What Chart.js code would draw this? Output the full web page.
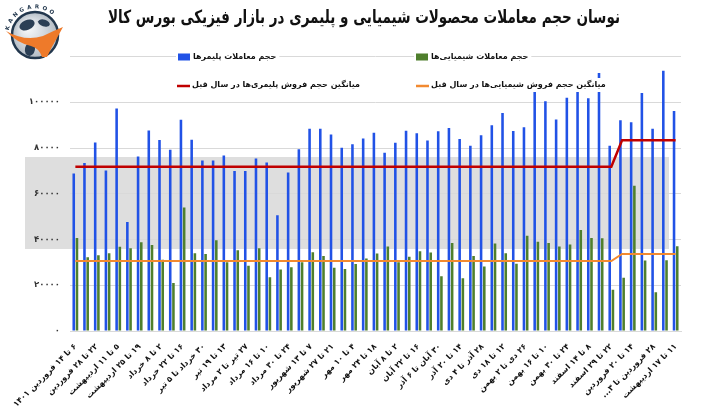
<!DOCTYPE html>
<html lang="fa">
<head>
<meta charset="utf-8">
<script src="https://cdn.jsdelivr.net/npm/chart.js@4.4.1/dist/chart.umd.min.js"></script>
<style>
  html, body { margin: 0; padding: 0; background: #fff; }
  #wrap { width: 701px; height: 407px; position: relative; }
</style>
</head>
<body>
<div id="wrap"><canvas id="chart" dir="rtl"></canvas></div>
<script>
// Weekly trade volume of chemical and polymer products, Iran Mercantile Exchange.
// Only every other week is labelled on the axis, like the source picture.
const chartTitle = 'نوسان حجم معاملات محصولات شیمیایی و پلیمری در بازار فیزیکی بورس کالا';

const weekLabels = [
  '۶ تا ۱۴ فروردین ۱۴۰۱', '', '۲۲ تا ۲۸ فروردین', '', '۵ تا ۱۱ اردیبهشت', '',
  '۱۹ تا ۲۵ اردیبهشت', '', '۲ تا ۸ خرداد', '', '۱۶ تا ۲۲ خرداد', '',
  '۳۰ خرداد تا ۵ تیر', '', '۱۳ تا ۱۹ تیر', '', '۲۷ تیر تا ۲ مرداد', '',
  '۱۰ تا ۱۶ مرداد', '', '۲۴ تا ۳۰ مرداد', '', '۷ تا ۱۳ شهریور', '',
  '۲۱ تا ۲۷ شهریور', '', '۴ تا ۱۰ مهر', '', '۱۸ تا ۲۴ مهر', '',
  '۲ تا ۸ آبان', '', '۱۶ تا ۲۲ آبان', '', '۳۰ آبان تا ۶ آذر', '',
  '۱۴ تا ۲۰ آذر', '', '۲۸ آذر تا ۴ دی', '', '۱۲ تا ۱۸ دی', '',
  '۲۶ دی تا ۲ بهمن', '', '۱۰ تا ۱۶ بهمن', '', '۲۴ تا ۳۰ بهمن', '',
  '۸ تا ۱۴ اسفند', '', '۲۲ تا ۲۹ اسفند', '', '۱۴ تا ۲۰ فروردین', '',
  '۲۸ فروردین تا ۳...', '', '۱۱ تا ۱۷ اردیبهشت'
];

const polymerVolume = [
  68900, 73400, 82400, 70200, 97300, 47700, 76300, 87700, 83500, 79200,
  92400, 83600, 74500, 74500, 76700, 69900, 69900, 75400, 73700, 50600,
  69300, 79400, 88400, 88400, 85900, 80100, 81600, 84200, 86700, 77900,
  82300, 87500, 86400, 83300, 87300, 88700, 83900, 81000, 85600, 89900,
  95300, 87400, 89100, 106400, 100400, 92500, 102000, 107400, 101700, 112800,
  81000, 92100, 91300, 104000, 88400, 113800, 96200
];

const chemicalVolume = [
  40700, 32200, 33100, 34000, 36800, 36200, 38800, 37600, 31100, 21000,
  54000, 34000, 33700, 39700, 30100, 35300, 28500, 36200, 23500, 26900,
  27900, 30100, 34400, 32800, 27600, 27100, 29300, 31700, 33900, 36900,
  30100, 32500, 34900, 34300, 23900, 38500, 23100, 32800, 28200, 38200,
  34000, 29400, 41600, 39000, 38500, 36900, 37800, 44100, 40700, 40600,
  18000, 23300, 63500, 30800, 16900, 30900, 37100
];

// previous-year weekly averages (step up when the new year starts)
const polymerPrevAvg = [
  71800, 71800, 71800, 71800, 71800, 71800, 71800, 71800, 71800, 71800,
  71800, 71800, 71800, 71800, 71800, 71800, 71800, 71800, 71800, 71800,
  71800, 71800, 71800, 71800, 71800, 71800, 71800, 71800, 71800, 71800,
  71800, 71800, 71800, 71800, 71800, 71800, 71800, 71800, 71800, 71800,
  71800, 71800, 71800, 71800, 71800, 71800, 71800, 71800, 71800, 71800,
  71800, 83400, 83400, 83400, 83400, 83400, 83400
];

const chemicalPrevAvg = [
  30600, 30600, 30600, 30600, 30600, 30600, 30600, 30600, 30600, 30600,
  30600, 30600, 30600, 30600, 30600, 30600, 30600, 30600, 30600, 30600,
  30600, 30600, 30600, 30600, 30600, 30600, 30600, 30600, 30600, 30600,
  30600, 30600, 30600, 30600, 30600, 30600, 30600, 30600, 30600, 30600,
  30600, 30600, 30600, 30600, 30600, 30600, 30600, 30600, 30600, 30600,
  30600, 33700, 33700, 33700, 33700, 33700, 33700
];

const yTicks = [0, 20000, 40000, 60000, 80000, 100000];

const FONT = "'DejaVu Sans', sans-serif";
const faDigits = '۰۱۲۳۴۵۶۷۸۹';
const toFa = (n) => String(n).replace(/\d/g, d => faDigits[d]);

// grey watermark band behind the plot
const watermarkBand = {
  id: 'watermarkBand',
  beforeDraw(chart) {
    const ctx = chart.ctx;
    ctx.save();
    ctx.fillStyle = '#dedede';
    ctx.fillRect(25, 157, 644, 92);
    ctx.restore();
  }
};

// title, squeezed a little so the wide fallback font fits the original span
const squeezedTitle = {
  id: 'squeezedTitle',
  afterDraw(chart) {
    const ctx = chart.ctx;
    ctx.save();
    ctx.font = `bold 18px ${FONT}`;
    ctx.textAlign = 'center';
    ctx.textBaseline = 'middle';
    ctx.fillStyle = '#111';
    const w = ctx.measureText(chartTitle).width;
    const k = Math.min(1, 512 / w);
    ctx.translate(364, 18);
    ctx.scale(k, 1);
    ctx.fillText(chartTitle, 0, 0);
    ctx.restore();
  }
};

// legend drawn inside the plot, two rows of two, like the Excel original
const insideLegend = {
  id: 'insideLegend',
  afterDraw(chart) {
    const ctx = chart.ctx;
    const ds = chart.data.datasets;
    const items = [
      { d: ds[2], x: 178, y: 57, box: true },
      { d: ds[3], x: 416, y: 57, box: true },
      { d: ds[0], x: 177, y: 85, box: false },
      { d: ds[1], x: 416, y: 85, box: false },
    ];
    ctx.save();
    ctx.font = `bold 8px ${FONT}`;
    ctx.textBaseline = 'middle';
    ctx.textAlign = 'left';
    items.forEach(it => {
      const tw = ctx.measureText(it.d.label).width;
      ctx.fillStyle = '#fff';
      ctx.fillRect(it.x - 2, it.y - 7, tw + 20, 14);
      if (it.box) {
        ctx.fillStyle = it.d.backgroundColor;
        ctx.fillRect(it.x, it.y - 3.5, 12, 7);
      } else {
        ctx.strokeStyle = it.d.borderColor;
        ctx.lineWidth = 2.5;
        ctx.beginPath();
        ctx.moveTo(it.x, it.y + 1);
        ctx.lineTo(it.x + 13, it.y + 1);
        ctx.stroke();
      }
      ctx.fillStyle = '#111';
      ctx.fillText(it.d.label, it.x + 15, it.y);
    });
    ctx.restore();
  }
};

// rough kangaroo-globe badge at top left
const logo = {
  id: 'logo',
  afterDraw(chart) {
    const ctx = chart.ctx;
    const cx = 35, cy = 35, r = 23;
    ctx.save();
    const g = ctx.createRadialGradient(cx - 8, cy - 8, 3, cx, cy, r);
    g.addColorStop(0, '#f4f6f8');
    g.addColorStop(1, '#b3bcc5');
    ctx.beginPath();
    ctx.arc(cx, cy, r, 0, Math.PI * 2);
    ctx.fillStyle = g;
    ctx.fill();
    ctx.lineWidth = 2.5;
    ctx.strokeStyle = '#22374d';
    ctx.stroke();
    // continents
    ctx.fillStyle = '#2b3f55';
    ctx.beginPath();
    ctx.ellipse(cx - 8, cy - 10, 8, 5, -0.4, 0, Math.PI * 2);
    ctx.fill();
    ctx.beginPath();
    ctx.ellipse(cx + 9, cy - 12, 6, 3.5, 0.3, 0, Math.PI * 2);
    ctx.fill();
    ctx.beginPath();
    ctx.ellipse(cx - 5, cy + 14, 5, 7, 0.2, 0, Math.PI * 2);
    ctx.fill();
    // kangaroo
    ctx.fillStyle = '#ee7a2a';
    ctx.beginPath();
    ctx.moveTo(cx - 29, cy - 4);
    ctx.quadraticCurveTo(cx - 10, cy + 7, cx + 8, cy + 1);
    ctx.quadraticCurveTo(cx + 18, cy - 4, cx + 28, cy - 8);
    ctx.lineTo(cx + 22, cy + 3);
    ctx.quadraticCurveTo(cx + 17, cy + 11, cx + 12, cy + 22);
    ctx.lineTo(cx + 7, cy + 22);
    ctx.quadraticCurveTo(cx + 4, cy + 13, cx - 4, cy + 11);
    ctx.quadraticCurveTo(cx - 18, cy + 8, cx - 29, cy - 4);
    ctx.fill();
    // arc text
    ctx.fillStyle = '#22374d';
    ctx.font = `bold 5.5px ${FONT}`;
    ctx.textAlign = 'center';
    ctx.textBaseline = 'middle';
    const word = 'KANGAROO';
    for (let i = 0; i < word.length; i++) {
      const a = -Math.PI * 0.92 + i * (Math.PI * 0.62 / (word.length - 1));
      ctx.save();
      ctx.translate(cx + Math.cos(a) * (r + 5), cy + Math.sin(a) * (r + 5));
      ctx.rotate(a + Math.PI / 2);
      ctx.fillText(word[i], 0, 0);
      ctx.restore();
    }
    ctx.restore();
  }
};

const ctx = document.getElementById('chart').getContext('2d');
new Chart(ctx, {
  type: 'bar',
  data: {
    labels: weekLabels,
    datasets: [
      {
        type: 'line',
        label: 'میانگین حجم فروش پلیمری‌ها در سال قبل',
        data: polymerPrevAvg,
        borderColor: '#c00000',
        borderWidth: 2.5,
        pointRadius: 0,
        tension: 0,
        order: 0,
      },
      {
        type: 'line',
        label: 'میانگین حجم فروش شیمیایی‌ها در سال قبل',
        data: chemicalPrevAvg,
        borderColor: '#f28a30',
        borderWidth: 2,
        pointRadius: 0,
        tension: 0,
        order: 0,
      },
      {
        label: 'حجم معاملات پلیمرها',
        data: polymerVolume,
        backgroundColor: '#2152e6',
        categoryPercentage: 0.6,
        barPercentage: 0.8,
        order: 1,
      },
      {
        label: 'حجم معاملات شیمیایی‌ها',
        data: chemicalVolume,
        backgroundColor: '#4f7f2d',
        categoryPercentage: 0.6,
        barPercentage: 0.8,
        order: 1,
      },
    ],
  },
  options: {
    responsive: true,
    maintainAspectRatio: false,
    animation: false,
    // top padding leaves room for the title drawn by squeezedTitle
    layout: { padding: { left: 0, right: 20, top: 56.5, bottom: 0 } },
    plugins: {
      legend: { display: false },
      tooltip: { enabled: false },
      title: { display: false },
    },
    scales: {
      x: {
        grid: { display: false },
        border: { color: '#d9d9d9' },
        ticks: {
          autoSkip: false,
          minRotation: 45,
          maxRotation: 45,
          color: '#111',
          font: { family: FONT, size: 8, weight: 'bold' },
        },
        afterFit: (scale) => { scale.height = 76; },
      },
      y: {
        min: 0,
        max: 120000,
        afterBuildTicks: (scale) => {
          scale.ticks = yTicks.concat([120000]).map(v => ({ value: v }));
        },
        ticks: {
          color: '#333',
          padding: 10,
          font: { family: FONT, size: 8.5, weight: 'bold' },
          callback: (v) => (yTicks.includes(v) ? toFa(v) : ''),
        },
        grid: { color: '#d9d9d9', drawTicks: false },
        border: { display: false },
        afterFit: (scale) => { scale.width = 70; },
      },
    },
  },
  plugins: [watermarkBand, squeezedTitle, insideLegend, logo],
});
</script>
</body>
</html>
